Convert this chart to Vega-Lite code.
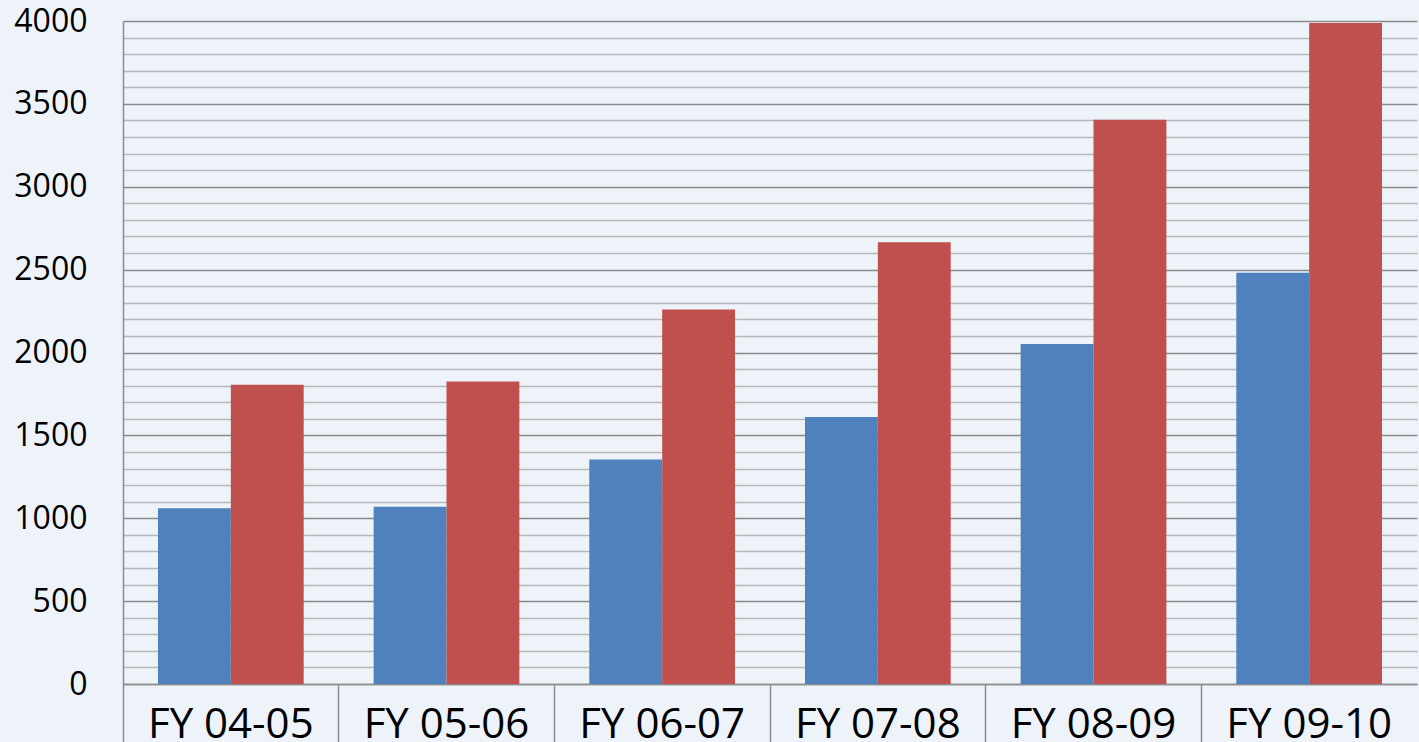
{
  "$schema": "https://vega.github.io/schema/vega-lite/v6.json",
  "autosize": "none",
  "width": 1294,
  "height": 663,
  "padding": {"left": 123, "top": 21, "right": 2, "bottom": 58},
  "background": "#eef3fa",
  "config": {
    "view": {"stroke": null},
    "font": "Open Sans"
  },
  "data": {
    "values": [
      {"year": "FY 04-05", "series": "Series1", "value": 1060},
      {"year": "FY 04-05", "series": "Series2", "value": 1805},
      {"year": "FY 05-06", "series": "Series1", "value": 1070},
      {"year": "FY 05-06", "series": "Series2", "value": 1825},
      {"year": "FY 06-07", "series": "Series1", "value": 1355},
      {"year": "FY 06-07", "series": "Series2", "value": 2260},
      {"year": "FY 07-08", "series": "Series1", "value": 1611},
      {"year": "FY 07-08", "series": "Series2", "value": 2665},
      {"year": "FY 08-09", "series": "Series1", "value": 2052},
      {"year": "FY 08-09", "series": "Series2", "value": 3404},
      {"year": "FY 09-10", "series": "Series1", "value": 2481},
      {"year": "FY 09-10", "series": "Series2", "value": 3988}
    ]
  },
  "mark": {"type": "bar"},
  "encoding": {
    "x": {
      "field": "year",
      "type": "nominal",
      "sort": null,
      "scale": {"paddingInner": 0, "paddingOuter": 0},
      "axis": {
        "title": null,
        "labelAngle": 0,
        "labelFontSize": 42,
        "labelColor": "#000000",
        "labelPadding": -40,
        "bandPosition": 0,
        "tickSize": 60,
        "tickColor": "#8c8c8c",
        "tickWidth": 1.5,
        "domainColor": "#8c8c8c",
        "domainWidth": 1.5,
        "grid": false
      }
    },
    "xOffset": {
      "field": "series",
      "type": "nominal",
      "scale": {"paddingInner": 0, "paddingOuter": 0.48}
    },
    "y": {
      "field": "value",
      "type": "quantitative",
      "scale": {"domain": [0, 4000], "nice": false},
      "axis": {
        "title": null,
        "values": [0, 100, 200, 300, 400, 500, 600, 700, 800, 900, 1000, 1100, 1200, 1300, 1400, 1500, 1600, 1700, 1800, 1900, 2000, 2100, 2200, 2300, 2400, 2500, 2600, 2700, 2800, 2900, 3000, 3100, 3200, 3300, 3400, 3500, 3600, 3700, 3800, 3900, 4000],
        "labelExpr": "datum.value % 500 === 0 ? datum.label : ''",
        "format": "d",
        "labelFontSize": 32,
        "labelColor": "#000000",
        "labelPadding": 36,
        "ticks": false,
        "domainColor": "#8c8c8c",
        "domainWidth": 1.5,
        "grid": true,
        "gridWidth": 1.5,
        "gridColor": {
          "condition": {"test": "datum.value % 500 === 0", "value": "#8a8a8a"},
          "value": "#b8b8b8"
        },
        "gridOpacity": 1
      }
    },
    "color": {
      "field": "series",
      "type": "nominal",
      "scale": {"domain": ["Series1", "Series2"], "range": ["#4f81bd", "#c0504d"]},
      "legend": null
    }
  }
}
